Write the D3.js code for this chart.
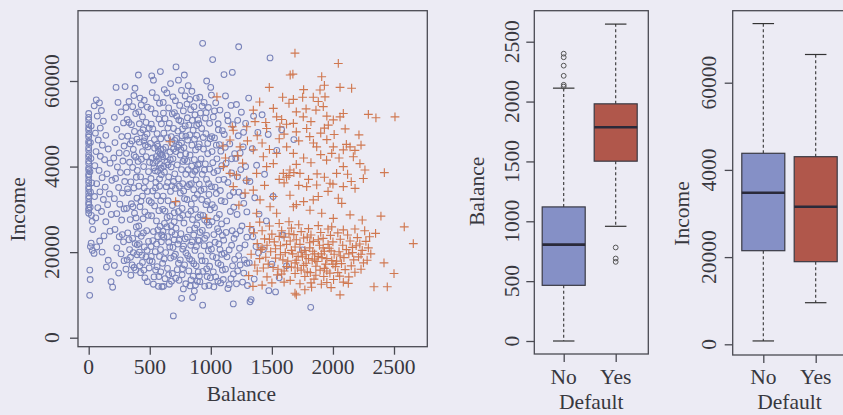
<!DOCTYPE html>
<html><head><meta charset="utf-8">
<script src="https://cdn.jsdelivr.net/npm/d3@7"></script>
<style>
html,body{margin:0;padding:0;background:#ecebf4;}
svg{display:block;}
text{font-family:"Liberation Serif","Times New Roman",serif;fill:#38383f;}
</style></head>
<body><svg id="c" width="843" height="415"></svg>
<script>
// ---- data ----
// Scatter: [balance, income in thousands]
const noPoints = [
[0,29.1],[0,29.8],[0,30.2],[0,31.1],[0,31.6],[0,32.5],[0,33.1],[0,33.9],[0,34.7],[0,35.3],[0,36.2],[0,36.8],[0,37.7],[0,38.2],[0,39.2],[0,39.7],[0,40.7],[0,41.3],[0,42.2],[0,42.8],[0,43.8],[0,44.4],[0,45.4],[0,45.9],[0,46.9],[0,47.5],[0,48.5],[0,49.1],[0,49.9],[0,50.9],[0,51.5],[0,52.4],[12,30.5],[15,34.0],[10,38.8],[18,41.9],[14,45.6],[20,49.5],[25,36.2],[22,28.6],[8,9.9],[12,13.6],[9,15.8],[14,21.3],[20,22.1],[30,20.4],[33,25.3],[28,27.2],
[45,54.2],[62,55.6],[88,54.9],[104,53.1],[70,51.8],[120,50.6],[95,49.0],[55,47.8],[140,47.3],[78,46.2],[112,45.0],[160,44.1],[60,43.5],[95,42.4],[130,41.6],[175,40.8],[50,40.2],[85,39.1],[150,38.3],[110,37.4],[190,36.8],[65,36.0],[135,35.2],[92,34.1],[170,33.6],[48,33.0],[120,32.3],[155,31.1],[75,30.4],[105,29.5],[185,28.8],[58,28.0],[140,27.1],[44,19.7],[66,21.2],[90,22.6],[125,23.8],[160,18.1],[183,13.1],[196,11.8],[145,16.5],[110,20.0],[175,24.9],
[224,58.5],[240,55.0],[265,52.8],[210,51.5],[285,50.2],[230,48.7],[270,47.0],[215,45.6],[290,44.8],[250,43.2],[205,42.0],[280,41.3],[235,39.9],[260,38.6],[220,37.2],[295,36.5],[245,35.1],[275,33.8],[210,32.5],[255,31.2],[290,30.1],[230,29.0],[270,27.5],[215,25.3],[250,23.6],[285,22.4],[230,21.0],[265,19.6],[290,18.0],[210,16.9],[245,15.1],[275,24.1],[298,58.7],
[305,53.8],[330,55.2],[360,54.0],[385,52.4],[315,51.0],[350,49.8],[375,48.2],[320,47.1],[395,46.4],[340,45.3],[365,44.0],[310,43.1],[385,42.2],[335,41.0],[360,39.8],[315,38.7],[390,37.5],[345,36.4],[370,35.0],[325,33.9],[395,32.6],[350,31.3],[310,30.2],[375,29.1],[340,27.6],[390,25.9],[320,24.5],[360,23.2],[380,22.0],[335,20.6],[395,19.4],[315,18.2],[355,17.0],[385,15.8],[345,14.6],[379,58.3],[370,56.6],[330,22.9],[365,19.9],[305,16.0],
[407,61.4],[420,56.0],[455,55.5],[480,53.9],[410,52.8],[440,51.6],[470,50.3],[495,49.0],[425,47.9],[460,46.8],[415,45.7],[485,44.6],[440,43.5],[470,42.3],[405,41.2],[450,40.0],[490,38.8],[425,37.6],[465,36.5],[410,35.4],[480,34.2],[440,33.1],[495,32.0],[420,30.6],[460,29.4],[445,27.8],[410,26.1],[475,25.0],[430,23.7],[490,22.5],[455,21.2],[415,20.0],[470,18.9],[440,17.6],[495,16.3],[425,15.2],[460,14.0],[480,13.1],[400,24.3],[435,19.3],[465,45.0],[445,48.6],[430,54.4],
[516,61.2],[530,60.2],[587,62.2],[520,57.3],[555,56.1],[580,54.8],[510,53.5],[545,52.4],[575,51.1],[595,50.0],[525,48.8],[560,47.7],[590,46.5],[505,45.4],[540,44.3],[570,43.6],[598,42.8],[520,42.0],[555,41.3],[585,40.5],[535,39.7],[565,38.9],[595,38.1],[510,37.2],[550,36.3],[580,35.4],[525,34.3],[560,33.2],[590,32.0],[540,30.8],[575,29.7],[515,28.5],[555,27.3],[585,26.0],[530,24.8],[565,23.6],[595,22.4],[510,21.3],[545,20.1],[580,19.0],[520,17.8],[560,16.6],[590,15.4],[535,14.2],[570,12.0],[600,11.9],[590,44.0],[575,41.9],[560,45.2],[545,39.0],[580,37.1],
[619,58.0],[640,57.2],[670,59.4],[690,56.3],[610,55.0],[655,53.7],[685,52.3],[625,51.2],[660,50.1],[695,48.9],[615,47.8],[645,46.7],[680,45.6],[630,44.5],[665,43.4],[605,42.3],[690,41.8],[640,41.0],[675,39.9],[620,38.7],[655,37.6],[695,36.5],[635,35.3],[670,34.2],[610,33.1],[650,32.0],[685,30.9],[625,29.6],[665,28.4],[700,27.1],[640,25.9],[680,24.7],[615,23.5],[655,22.3],[690,21.1],[630,19.9],[670,18.6],[605,17.4],[645,16.2],[685,15.0],[625,13.8],[660,12.5],[693,5.1],[650,40.4],[610,44.0],[700,22.9],[620,26.7],
[715,63.3],[783,61.4],[735,60.2],[760,57.8],[790,56.5],[710,55.4],[745,54.3],[775,53.0],[720,51.8],[755,50.6],[790,49.5],[730,48.3],[765,47.2],[705,46.1],[740,45.0],[780,44.4],[715,43.5],[750,42.7],[785,41.6],[725,40.4],[760,39.3],[795,38.2],[735,37.1],[770,36.0],[710,34.9],[750,33.8],[785,32.5],[725,31.4],[765,30.2],[700,29.2],[745,28.0],[780,26.8],[715,25.6],[755,24.3],[790,23.1],[730,21.9],[770,20.7],[710,19.5],[750,18.2],[785,17.0],[725,15.9],[765,14.7],[740,13.4],[761,9.2],[775,11.4],[720,46.6],[760,45.5],[795,43.0],
[851,9.4],[815,58.9],[845,57.6],[880,56.0],[805,54.6],[835,53.3],[870,52.1],[895,50.9],[820,49.7],[855,48.5],[885,47.3],[810,46.2],[845,45.0],[875,43.9],[830,42.7],[865,41.6],[895,40.4],[815,39.3],[850,38.1],[880,36.9],[825,35.8],[860,34.6],[890,33.5],[805,32.3],[840,31.2],[875,30.0],[815,28.8],[850,27.6],[885,26.4],[825,25.2],[860,24.0],[895,22.8],[835,21.6],[870,20.4],[810,19.2],[845,18.0],[880,16.8],[820,15.6],[855,14.4],[890,13.2],[830,12.1],[865,10.9],[840,36.0],[870,38.9],
[933,68.8],[966,60.0],[999,58.5],[933,7.6],[910,56.2],[945,55.0],[980,53.8],[915,52.5],[955,51.3],[990,50.1],[925,48.9],[960,47.7],[995,46.5],[905,45.3],[940,44.1],[975,43.0],[920,41.8],[955,40.6],[990,39.4],[930,38.2],[965,37.0],[905,35.9],[945,34.7],[985,33.5],[925,32.3],[960,31.1],[995,29.9],[915,28.7],[950,27.5],[985,26.3],[930,25.1],[965,23.9],[905,22.7],[945,21.5],[980,20.3],[920,19.1],[955,17.9],[990,16.7],[935,15.5],[970,14.3],[910,13.1],[950,12.0],[985,12.2],
[1015,65.0],[1005,56.7],[1040,54.9],[1075,53.2],[1020,51.6],[1060,50.0],[1095,48.4],[1030,46.7],[1070,45.1],[1010,43.5],[1050,41.8],[1090,40.2],[1025,38.6],[1065,36.9],[1005,35.3],[1045,33.7],[1085,32.0],[1030,30.4],[1070,28.8],[1010,27.1],[1055,25.5],[1095,23.9],[1035,22.3],[1075,20.6],[1015,19.0],[1060,17.4],[1095,15.8],[1040,14.2],[1080,12.8],[1025,11.9],[1065,24.8],[1090,19.5],
[1108,61.5],[1176,62.0],[1184,7.9],[1120,56.5],[1165,54.3],[1135,52.0],[1180,49.8],[1110,47.5],[1155,45.3],[1195,43.0],[1125,40.8],[1170,38.5],[1140,36.3],[1185,34.0],[1115,31.8],[1160,29.5],[1130,27.3],[1175,25.0],[1105,22.8],[1150,20.5],[1195,18.3],[1120,16.0],[1165,13.8],[1140,11.5],[1185,14.9],[1110,19.7],[1190,23.2],
[1228,68.0],[1210,54.5],[1250,52.7],[1285,50.1],[1225,47.2],[1265,44.6],[1205,41.9],[1245,39.3],[1290,36.7],[1230,34.0],[1270,31.4],[1215,28.8],[1255,26.1],[1295,23.5],[1235,20.9],[1275,18.2],[1220,15.6],[1260,13.0],[1300,12.2],[1240,17.0],[1280,21.7],[1205,24.2],
[1321,8.4],[1330,8.9],[1310,56.0],[1350,51.8],[1385,48.0],[1340,44.2],[1375,40.3],[1320,36.5],[1360,32.7],[1395,28.9],[1335,25.1],[1370,21.3],[1315,17.5],[1355,13.7],[1390,19.8],[1345,23.6],
[1485,65.4],[1420,52.1],[1470,47.5],[1540,43.8],[1440,38.2],[1510,33.0],[1455,27.3],[1590,24.0],[1430,20.6],[1500,17.2],[1560,14.0],[1475,11.0],[1530,10.7],[1580,48.6],[1680,46.3],[1818,7.1],[1750,20.5],[1620,16.8],
[330,50.3],[355,46.0],[372,42.6],[398,39.1],[318,34.8],[362,30.6],[388,28.0],[342,18.8],[372,16.4],[398,21.7],
[415,50.0],[452,46.0],[478,47.6],[432,41.7],[498,41.0],[455,35.0],[428,31.9],[487,28.6],[413,22.0],[448,24.5],[478,20.4],[499,18.0],[418,16.8],[452,15.8],
[512,49.9],[538,46.3],[566,44.7],[585,43.0],[553,42.3],[527,40.8],[593,39.6],[547,35.0],[513,31.6],[567,25.2],[598,24.0],[525,22.7],[556,21.9],[588,20.6],[512,19.0],[548,15.8],[575,14.3],[530,12.5],
[612,52.5],[648,49.0],[676,47.0],[633,42.5],[668,41.6],[695,44.1],[614,40.1],[647,36.3],[683,35.5],[607,30.0],[642,28.1],[674,26.2],[608,24.9],[645,23.6],[664,21.2],[698,19.0],[618,18.4],[655,14.7],[678,13.2],[612,12.0],
[702,52.6],[738,50.9],[768,48.8],[796,47.1],[727,44.5],[755,43.9],[772,41.2],[705,38.3],[742,35.4],[778,34.3],[735,29.5],[770,28.6],[707,24.1],[740,22.8],[777,21.4],[796,19.8],[735,17.4],[768,16.1],[712,13.9],[795,12.6],
[828,55.7],[862,54.0],[808,51.4],[848,50.8],[884,49.6],[828,47.4],[866,46.4],[898,44.6],[806,41.2],[843,40.1],[882,39.3],[809,35.3],[866,32.6],[837,29.6],[896,28.1],[868,25.6],[808,23.5],[847,22.4],[882,21.3],[826,18.4],[861,17.3],[897,15.4],[838,13.5],[874,12.3],
[928,54.1],[962,52.6],[902,50.0],[938,46.8],[975,45.4],[908,40.6],[948,39.2],[982,36.0],[918,34.4],[972,31.9],[936,28.6],[970,27.0],[912,24.6],[950,23.2],[990,21.7],[928,18.0],[966,16.1],[906,14.4],[996,14.0],
[1030,53.0],[1062,48.6],[1008,47.0],[1045,45.0],[1082,43.6],[1016,40.9],[1055,39.0],[1035,35.2],[1078,34.4],[1012,31.1],[1048,28.0],[1088,26.6],[1025,24.1],[1066,21.9],[1005,20.7],[1045,18.7],[1082,17.0],[1020,15.4],[1058,13.2],
[1140,50.7],[1118,44.5],[1170,41.8],[1108,37.0],[1155,33.2],[1188,30.5],[1125,24.6],[1170,21.6],[1132,18.9],[1178,16.8],[1102,13.6],[1150,12.4],
[1220,50.8],[1268,48.0],[1240,43.2],[1285,40.0],[1218,37.6],[1262,33.2],[1295,29.4],[1240,25.0],[1228,19.2],[1270,15.1],[1295,17.4],[1210,12.6]
];
const yesPoints = [
[1689,66.5],[2044,64.1],[1650,61.4],[1672,61.6],[1908,61.0],[1930,59.0],[2058,58.5],[2153,58.3],[1479,58.5],[2290,52.2],[2352,51.4],[2508,51.6],[2213,47.4],[2421,38.6],[2249,37.2],[1050,56.3],[1176,49.3],[666,45.8],[712,31.8],[966,27.9],
[1588,56.2],[1676,55.7],[1752,56.2],[1839,56.2],[1894,57.9],[1935,56.3],[1861,53.2],[1921,54.0],[2085,52.4],[2058,51.6],[2003,50.9],[1962,49.7],[1512,53.6],[1539,51.6],[1348,53.2],[1362,50.5],[1184,48.5],[1294,49.3],[1457,48.9],[1566,49.3],[1676,50.1],[1785,48.9],[1757,51.6],[1867,44.6],[2003,44.6],[2140,44.6],[2085,43.9],[2167,42.3],[1948,41.5],[2085,40.0],[2221,40.7],[2262,39.2],[2030,38.4],[1976,36.1],[2085,35.3],[2181,34.9],[1867,35.7],[1785,35.3],[2044,32.6],[2072,31.4],[1839,32.2],[1812,29.8],[1908,29.1],[2003,27.9],[1990,25.9],[2140,28.7],[2085,25.2],
[1157,46.2],[1239,44.6],[1348,43.9],[1430,42.3],[1457,40.0],[1539,43.1],[1621,44.6],[1676,43.1],[1512,40.7],[1594,38.4],[1648,39.2],[1730,38.4],[1375,38.4],[1294,36.8],[1157,38.4],[1103,40.0],[1184,35.3],[1348,34.5],[1403,32.2],[1512,33.0],[1648,33.3],[1676,30.6],[1539,29.1],[1375,29.1],[1485,30.6],
[1600,47.6],[1620,49.9],[1700,48.1],[1720,46.0],[1810,47.0],[1840,45.5],[1900,47.8],[1950,46.3],[2010,47.5],[2110,45.2],[2050,42.0],[1990,43.1],[1900,42.8],[1820,40.9],[1760,42.0],[1700,40.5],[1620,37.5],[1560,37.0],[1600,36.2],[1640,37.9],[1680,38.6],[1720,35.6],[1800,37.0],[1870,38.3],[1930,37.5],[1960,34.2],[2000,35.9],[2120,38.2],[2150,36.5],[1880,33.0],[1760,31.8],[1700,31.1],[1440,35.6],[1260,40.8],[1220,42.5],[1300,46.0],[1380,47.2],[1420,45.5],[1480,44.0],[1560,46.5],[1230,31.0],[1280,33.8],[1100,44.8],[1120,42.0],[1210,38.0],[1640,54.8],[1780,53.5],[1820,50.5],[1950,51.8],[1700,52.8],[1580,51.0],[1450,50.3],[2100,48.8],[2180,43.8],[2230,45.0],[1760,58.0],[1880,55.2],[1400,55.1],[1930,49.0],
[2393,28.4],[2240,27.5],[2584,25.9],[2658,22.0],[2349,24.4],[2418,17.5],[2500,15.0],[2336,11.9],[2445,11.9],[2058,10.0],[1689,10.4],[2126,12.7],[1700,10.0],
[1320,26.0],[1350,24.5],[1380,22.0],[1330,19.5],[1360,17.0],[1310,14.5],[1345,12.0],[1400,27.0],[1420,25.0],[1440,23.1],[1410,20.6],[1450,18.8],[1430,16.3],[1460,14.2],[1420,12.3],[1480,26.1],[1500,24.2],[1520,22.4],[1490,20.1],[1530,18.6],[1510,16.4],[1545,14.7],[1500,12.8],[1560,26.7],[1580,25.0],[1600,23.5],[1570,21.5],[1610,19.9],[1590,18.2],[1620,16.6],[1580,14.9],[1600,13.0],[1640,27.1],[1660,25.6],[1680,24.1],[1650,22.6],[1690,21.2],[1670,19.6],[1700,18.1],[1660,16.5],[1690,15.0],[1650,13.4],[1720,26.4],[1740,24.8],[1760,23.3],[1730,21.8],[1770,20.4],[1750,18.9],[1780,17.4],[1740,15.8],[1770,14.3],[1730,12.6],[1800,25.5],[1820,24.0],[1840,22.5],[1810,21.0],[1850,19.6],[1830,18.1],[1860,16.7],[1815,15.2],[1845,13.7],[1825,11.8],[1880,26.2],[1900,24.6],[1920,23.2],[1890,21.6],[1930,20.2],[1910,18.7],[1940,17.2],[1895,15.8],[1925,14.3],[1905,12.5],[1960,25.4],[1980,23.9],[2000,22.4],[1970,20.9],[2010,19.5],[1990,18.0],[2020,16.6],[1975,15.1],[2005,13.6],[1985,11.7],[2040,24.5],[2060,23.0],[2080,21.6],[2050,20.1],[2090,18.7],[2070,17.3],[2100,15.9],[2055,14.4],[2085,13.0],[2120,24.0],[2140,22.6],[2160,21.1],[2130,19.6],[2170,18.2],[2150,16.8],[2180,15.3],[2200,23.4],[2220,21.9],[2240,20.4],[2210,18.9],[2250,17.5],[2230,16.0],[2270,22.5],[2290,21.0],[2310,19.6],[2280,18.1],[2300,23.6],[2260,25.0],[2180,25.4],
[1690,17.5],[1715,19.0],[1760,16.9],[1800,18.5],[1835,20.2],[1870,17.8],[1905,19.6],[1950,18.5],[1985,20.3],[2030,17.9],[2060,19.1],[1790,15.4],[1860,14.6],[1950,15.6],[2040,15.2],[1880,19.0],[1920,21.0],[1810,22.2],[1740,20.0],[1660,20.4],[1620,21.8],[1570,19.4],[1530,20.8],[1470,17.2],[1460,21.6],[1400,18.5],[1380,15.6],[1550,16.0],[1630,17.9],[1710,16.3],[1780,19.4],[1850,18.4],[1930,16.2],[2000,17.2],[2110,20.6],[2160,19.9],[2190,21.5],[1960,21.8],[1880,22.9],[1790,23.5],[1700,22.9],[1640,24.3],[1560,23.7],[1480,23.0],[1420,21.0],[1600,15.6],[1820,12.8],[1950,12.9],[1770,11.2],[2130,14.2],[2230,19.5]
];
const balanceTicks = [0, 500, 1000, 1500, 2000, 2500];
const incomeTicks = [0, 20000, 40000, 60000];
const incomeTickLabels = ["0", "20000", "4000", "60000"];
const defaultCats = ["No", "Yes"];
// boxplot summaries: [min, q1, median, q3, max]
const balanceBox = [[0, 465, 805, 1120, 2112], [958, 1502, 1786, 1981, 2647]];
const balanceOutliers = [[2125, 2140, 2215, 2300, 2370, 2400], [661, 689, 781]];
const incomeBox = [[770, 21470, 34770, 43810, 73560], [9540, 18950, 31560, 43030, 66470]];
const incomeOutliers = [[], []];

// ---- drawing ----
const svg = d3.select("#c");
const FS = 21.5;
const axisCol = "#4a4a52";
const blue = "#7a84ba", orange = "#d07850";
const boxFill = ["#8590c6", "#b0574b"];

function frame(x0, y0, x1, y1) {
  svg.append("rect").attr("x", x0).attr("y", y0).attr("width", x1 - x0).attr("height", y1 - y0)
    .attr("fill", "none").attr("stroke", axisCol).attr("stroke-width", 1.3);
}
function yAxis(scale, x, ticks, labels, labelX, title, titleX) {
  const g = svg.append("g").attr("transform", `translate(${x},0)`)
    .call(d3.axisLeft(scale).tickValues(ticks).tickSize(8).tickFormat((d, i) => labels[i]));
  g.select(".domain").remove();
  g.selectAll(".tick line").attr("stroke", axisCol).attr("stroke-width", 1.3);
  g.selectAll(".tick text").remove();
  ticks.forEach((t, i) => {
    svg.append("text").attr("transform", `translate(${labelX},${scale(t)}) rotate(-90)`)
      .attr("text-anchor", "middle").attr("dominant-baseline", "central")
      .attr("font-size", FS).text(labels[i]);
  });
  svg.append("text").attr("transform", `translate(${titleX},${(scale.range()[0] + scale.range()[1]) / 2}) rotate(-90)`)
    .attr("text-anchor", "middle").attr("dominant-baseline", "central").attr("font-size", FS).text(title);
}
function xAxis(scale, y, ticks, labels, labelY, title, titleY, titleCx) {
  const g = svg.append("g").attr("transform", `translate(0,${y})`)
    .call(d3.axisBottom(scale).tickValues(ticks).tickSize(8).tickFormat((d, i) => labels[i]));
  g.select(".domain").remove();
  g.selectAll(".tick line").attr("stroke", axisCol).attr("stroke-width", 1.3);
  g.selectAll(".tick text").remove();
  ticks.forEach((t, i) => {
    svg.append("text").attr("x", scale(t)).attr("y", labelY).attr("text-anchor", "middle")
      .attr("dominant-baseline", "central").attr("font-size", FS).text(labels[i]);
  });
  svg.append("text").attr("x", titleCx).attr("y", titleY).attr("text-anchor", "middle")
    .attr("dominant-baseline", "central").attr("font-size", FS).text(title);
}

// Scatter
const sx = d3.scaleLinear().domain([0, 2500]).range([88.7, 394]);
const sy = d3.scaleLinear().domain([0, 60000]).range([337.7, 81]);
svg.append("clipPath").attr("id", "sc").append("rect").attr("x", 78).attr("y", 10.7).attr("width", 349.3).attr("height", 336);
const pts = svg.append("g").attr("clip-path", "url(#sc)");
pts.selectAll("circle").data(noPoints).join("circle")
  .attr("cx", d => sx(d[0])).attr("cy", d => sy(d[1] * 1000)).attr("r", 2.9)
  .attr("fill", "none").attr("stroke", blue).attr("stroke-width", 1.05);
pts.selectAll("path.y").data(yesPoints).join("path").attr("class", "y")
  .attr("d", d => { const x = sx(d[0]), y = sy(d[1] * 1000), h = 4.4; return `M${x - h},${y}H${x + h}M${x},${y - h}V${y + h}`; })
  .attr("stroke", orange).attr("stroke-width", 1.15).attr("fill", "none");
frame(78, 10.7, 427.3, 346.7);
yAxis(sy, 78, incomeTicks, incomeTickLabels, 52, "Income", 18.3);
xAxis(sx, 346.7, balanceTicks, balanceTicks.map(String), 366.7, "Balance", 394, sx(1250));

// Boxplot helper
function boxplot(xs, ys, stats, outs, halfW) {
  stats.forEach((s, i) => {
    const cx = xs(defaultCats[i]);
    const g = svg.append("g");
    g.append("line").attr("x1", cx).attr("x2", cx).attr("y1", ys(s[3])).attr("y2", ys(s[4]))
      .attr("stroke", "#333").attr("stroke-width", 1.1).attr("stroke-dasharray", "3,2.5");
    g.append("line").attr("x1", cx).attr("x2", cx).attr("y1", ys(s[1])).attr("y2", ys(s[0]))
      .attr("stroke", "#333").attr("stroke-width", 1.1).attr("stroke-dasharray", "3,2.5");
    [s[0], s[4]].forEach(v => g.append("line").attr("x1", cx - halfW / 2).attr("x2", cx + halfW / 2)
      .attr("y1", ys(v)).attr("y2", ys(v)).attr("stroke", "#333").attr("stroke-width", 1.2));
    g.append("rect").attr("x", cx - halfW).attr("width", 2 * halfW).attr("y", ys(s[3])).attr("height", ys(s[1]) - ys(s[3]))
      .attr("fill", boxFill[i]).attr("stroke", "#3a3a44").attr("stroke-width", 1.2);
    g.append("line").attr("x1", cx - halfW).attr("x2", cx + halfW).attr("y1", ys(s[2])).attr("y2", ys(s[2]))
      .attr("stroke", "#2a2a3a").attr("stroke-width", 2.6);
    outs[i].forEach(v => g.append("circle").attr("cx", cx).attr("cy", ys(v)).attr("r", 2.4)
      .attr("fill", "none").attr("stroke", "#555").attr("stroke-width", 1));
  });
}

// Panel 2: Balance by Default
const bx = d3.scalePoint().domain(defaultCats).range([563.7, 615.7]);
const by = d3.scaleLinear().domain([0, 2500]).range([341, 41.7]);
boxplot(bx, by, balanceBox, balanceOutliers, 21.5);
frame(534.3, 10.7, 648.3, 354);
yAxis(by, 534.3, balanceTicks, balanceTicks.map(String), 511.7, "Balance", 477.3);
xAxis(bx, 354, defaultCats, defaultCats, 376.7, "Default", 402, 591.3);

// Panel 3: Income by Default
const ix = d3.scalePoint().domain(defaultCats).range([763.3, 815.7]);
const iy = d3.scaleLinear().domain([0, 60000]).range([344.3, 82.7]);
boxplot(ix, iy, incomeBox, incomeOutliers, 21.5);
frame(732.7, 10.7, 850, 355);
yAxis(iy, 732.7, incomeTicks, incomeTickLabels, 709.3, "Income", 681.7);
xAxis(ix, 355, defaultCats, defaultCats, 376.7, "Default", 402, 789.5);
</script></body></html>
